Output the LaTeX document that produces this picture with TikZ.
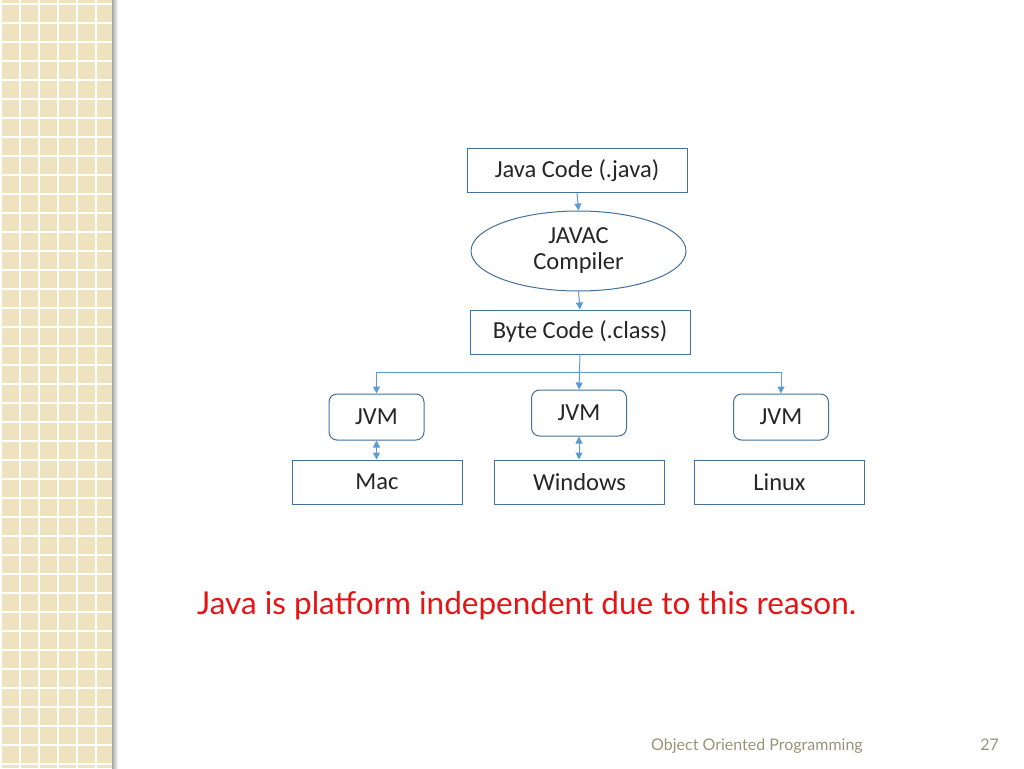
\documentclass[tikz,border=0pt]{standalone}
\usepackage{fontspec}
\setmainfont{Carlito}
\newfontfamily\gillfont{Lato}
\usetikzlibrary{shapes.geometric,arrows.meta}
\definecolor{boxline}{RGB}{65,113,156}
\definecolor{arrowc}{RGB}{91,155,213}
\definecolor{strip}{RGB}{238,227,190}
\definecolor{footc}{RGB}{150,150,118}
\definecolor{redtxt}{RGB}{230,20,20}
\tikzset{
  box/.style={draw=boxline, line width=1pt, minimum width=#1, minimum height=44pt, inner sep=0pt, font=\fontsize{24.5}{28}\selectfont, text=black!85},
  jvmbox/.style={draw=boxline, line width=1pt, rounded corners=8pt, minimum width=95pt, minimum height=46pt, inner sep=0pt, font=\fontsize{24.5}{28}\selectfont, text=black!85},
  oval/.style={ellipse, draw=boxline, line width=1pt, minimum width=215pt, minimum height=80pt, inner sep=0pt, font=\fontsize{24.5}{26}\selectfont, text=black!85, align=center},
  conn/.style={draw=arrowc, line width=1pt},
  tip/.style={-{Triangle[width=7pt,length=7pt]}},
  dtip/.style={{Triangle[width=7pt,length=7pt]}-{Triangle[width=7pt,length=7pt]}}
}
\begin{document}
\begin{tikzpicture}[x=1pt,y=-1pt]
\useasboundingbox (0,0) rectangle (1024,768);
\fill[white] (0,0) rectangle (1024,768);
% left decorative strip
\fill[strip] (0,0) rectangle (112,768);
\foreach \i in {0,...,5} { \draw[white, line width=1.2pt] ({\i*19+1},0) -- ({\i*19+1},768); }
\foreach \j in {0,...,40} { \draw[white, line width=1.2pt] (0,{\j*19+4}) -- (112,{\j*19+4}); }
\shade[left color=black!35, right color=white] (112,0) rectangle (118,768);

% nodes
\node[box=220pt] (java) at (577,170.5) {Java Code (.java)};
\node[oval] (javac) at (578.5,251) {JAVAC\\Compiler};
\node[box=220pt] (byte) at (580,332) {Byte Code (.class)};
\node[jvmbox] (jvm1) at (376.5,417) {JVM};
\node[jvmbox] (jvm2) at (579,413) {JVM};
\node[jvmbox] (jvm3) at (781,417) {JVM};
\node[box=170pt] (mac) at (377,482) {Mac};
\node[box=170pt] (win) at (579.5,482) {Windows};
\node[box=170pt] (lin) at (779.5,482) {Linux};
\coordinate (split) at (580,372);

% connectors
\draw[conn,tip] (java.south) -- (javac.north);
\draw[conn,tip] (javac.south) -- (byte.north);
\draw[conn,tip] (byte.south) -- (jvm2.north);
\draw[conn,tip] (split) -| (jvm1.north);
\draw[conn,tip] (split) -| (jvm3.north);
\draw[conn,dtip] (jvm1.south) -- (jvm1.south |- mac.north);
\draw[conn,dtip] (jvm2.south) -- (jvm2.south |- win.north);

% texts
\node[text=redtxt, font=\gillfont\fontsize{31.5}{36}\selectfont, anchor=base west, inner sep=0pt] (msg) at (197,614) {Java is platform independent due to this reason.};
\node[text=footc, font=\gillfont\fontsize{16}{19}\selectfont, anchor=base west, inner sep=0pt] (foot) at (651,750) {Object Oriented Programming};
\node[text=footc, font=\gillfont\fontsize{16}{19}\selectfont, anchor=base east, inner sep=0pt] (pg) at (999,750) {27};
\end{tikzpicture}
\end{document}
